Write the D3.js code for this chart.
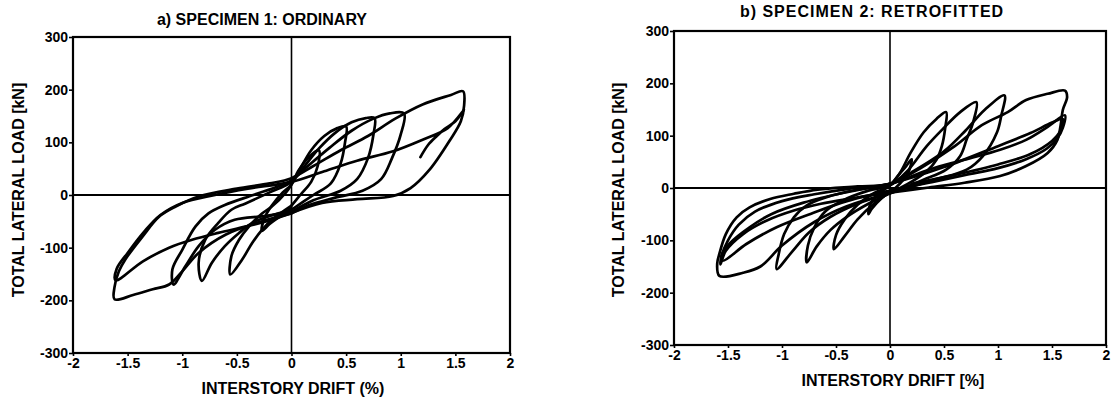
<!DOCTYPE html>
<html>
<head>
<meta charset="utf-8">
<script src="https://cdn.jsdelivr.net/npm/d3@7"></script>
<style>
  body { margin: 0; background: #fff; }
  text { font-family: "Liberation Sans", Arial, sans-serif; font-weight: bold; fill: #000; }
</style>
</head>
<body>
<svg id="chart" width="1113" height="400"></svg>
<script>
// tick values
var driftTicks = [-2, -1.5, -1, -0.5, 0, 0.5, 1, 1.5, 2];
var loadTicks = [-300, -200, -100, 0, 100, 200, 300];

// specimen 1 (ordinary): [drift %, load kN], one array per cycle
var spec1Cycle1 = [[0,-25],[-0.1,-40],[-0.2,-55],[-0.27,-68],[-0.25,-45],[-0.18,-20],[-0.08,5],[0,20],[0.06,45],[0.15,70],[0.25,85],[0.24,55],[0.18,25],[0.08,0],[0,-20]];
var spec1Cycle2 = [[0,-20],[-0.18,-47],[-0.27,-66],[-0.36,-91],[-0.45,-122],[-0.56,-151],[-0.55,-116],[-0.48,-85],[-0.39,-60],[-0.27,-35],[-0.18,-22],[-0.05,5],[0,20],[0.08,50],[0.18,85],[0.3,112],[0.42,127],[0.5,130],[0.49,100],[0.45,60],[0.36,22],[0.2,0],[0,-28]];
var spec1Cycle3 = [[0,-28],[-0.2,-40],[-0.36,-53],[-0.48,-72],[-0.61,-97],[-0.73,-129],[-0.82,-163],[-0.85,-129],[-0.79,-85],[-0.67,-53],[-0.55,-28],[-0.42,-16],[-0.2,5],[0,25],[0.12,55],[0.25,88],[0.4,118],[0.55,138],[0.68,146],[0.76,146],[0.75,115],[0.7,70],[0.6,30],[0.45,8],[0.2,-10],[0,-32]];
var spec1Cycle4 = [[0,-32],[-0.25,-40],[-0.52,-47],[-0.7,-66],[-0.85,-97],[-0.97,-135],[-1.08,-170],[-1.09,-141],[-1.0,-104],[-0.88,-60],[-0.76,-35],[-0.61,-19],[-0.35,0],[-0.1,18],[0,28],[0.15,55],[0.35,90],[0.55,122],[0.75,145],[0.9,155],[1.03,155],[1.0,115],[0.92,70],[0.82,30],[0.65,8],[0.4,-5],[0.15,-20],[0,-35]];
var spec1Cycle5 = [[0,-35],[-0.3,-52],[-0.6,-75],[-0.85,-110],[-1.0,-145],[-1.12,-170],[-1.27,-179],[-1.45,-190],[-1.62,-198],[-1.62,-175],[-1.58,-145],[-1.52,-122],[-1.36,-78],[-1.21,-41],[-1.06,-22],[-0.85,-3],[-0.5,12],[-0.2,22],[0,32],[0.2,55],[0.45,85],[0.7,112],[0.95,145],[1.2,172],[1.46,190],[1.57,197],[1.58,170],[1.55,140],[1.45,104],[1.26,47],[1.09,13],[0.93,-2],[0.6,-8],[0.28,-15],[0,-34]];
var spec1Cycle6 = [[0,-34],[-0.18,-47],[-0.42,-60],[-0.67,-72],[-0.91,-85],[-1.12,-100],[-1.36,-126],[-1.61,-162],[-1.6,-140],[-1.5,-110],[-1.35,-70],[-1.2,-38],[-1.0,-15],[-0.7,0],[-0.4,12],[0,25],[0.3,45],[0.6,65],[0.93,83],[1.2,105],[1.43,127],[1.58,162],[1.5,140],[1.4,125],[1.33,112],[1.25,95],[1.18,72]];

// specimen 2 (retrofitted)
var spec2Cycle1 = [[0,-8],[-0.08,-20],[-0.17,-40],[-0.2,-50],[-0.18,-30],[-0.1,-10],[0,5],[0.08,25],[0.15,42],[0.2,55],[0.18,35],[0.12,15],[0.05,0],[0,-8]];
var spec2Cycle2 = [[0,-8],[-0.15,-30],[-0.3,-60],[-0.42,-92],[-0.52,-117],[-0.5,-90],[-0.42,-60],[-0.3,-32],[-0.15,-10],[0,5],[0.09,28],[0.19,67],[0.31,106],[0.43,132],[0.52,145],[0.51,113],[0.48,80],[0.43,54],[0.34,32],[0.2,12],[0,-10]];
var spec2Cycle3 = [[0,-10],[-0.2,-30],[-0.4,-55],[-0.55,-80],[-0.68,-112],[-0.77,-142],[-0.76,-110],[-0.7,-75],[-0.6,-45],[-0.45,-25],[-0.2,-5],[0,5],[0.15,30],[0.34,80],[0.49,113],[0.65,145],[0.8,164],[0.77,126],[0.71,93],[0.65,61],[0.52,35],[0.3,15],[0,-10]];
var spec2Cycle4 = [[0,-10],[-0.3,-30],[-0.55,-55],[-0.75,-85],[-0.9,-120],[-1.05,-155],[-1.03,-126],[-0.98,-88],[-0.89,-56],[-0.77,-33],[-0.58,-17],[-0.3,-3],[0,8],[0.2,30],[0.5,70],[0.7,110],[0.88,150],[1.06,177],[1.03,138],[0.99,106],[0.86,61],[0.71,35],[0.4,15],[0,-10]];
var spec2Cycle5 = [[0,-10],[-0.4,-35],[-0.7,-65],[-1.0,-110],[-1.2,-150],[-1.36,-162],[-1.58,-168],[-1.6,-145],[-1.58,-126],[-1.52,-88],[-1.42,-56],[-1.3,-37],[-1.11,-21],[-0.89,-11],[-0.67,-3],[-0.3,3],[0,8],[0.3,40],[0.6,80],[0.85,120],[1.09,145],[1.26,168],[1.46,180],[1.62,186],[1.64,174],[1.6,149],[1.58,120],[1.55,92],[1.46,67],[1.26,42],[1.02,23],[0.69,10],[0.36,1],[0,-9]];
var spec2Cycle6 = [[0,-9],[-0.36,-20],[-0.64,-30],[-0.89,-43],[-1.14,-62],[-1.36,-88],[-1.52,-120],[-1.57,-146],[-1.56,-130],[-1.5,-100],[-1.4,-70],[-1.25,-45],[-1.0,-25],[-0.7,-12],[-0.4,-2],[0,8],[0.36,35],[0.69,54],[1.02,73],[1.26,92],[1.46,117],[1.62,139],[1.6,115],[1.55,95],[1.45,75],[1.26,55],[1.0,38],[0.7,25],[0.36,10],[0,-5]];
var spec2Cycle7 = [[0,-5],[-0.4,-25],[-0.73,-49],[-1.05,-75],[-1.33,-107],[-1.55,-139],[-1.56,-129],[-1.48,-105],[-1.3,-75],[-1.1,-50],[-0.8,-28],[-0.4,-8],[0,8],[0.5,40],[1.0,80],[1.3,105],[1.5,125],[1.6,132],[1.58,110],[1.5,90],[1.3,65],[1.0,45],[0.6,25],[0.2,8]];

var spec1Loops = [spec1Cycle1, spec1Cycle2, spec1Cycle3, spec1Cycle4, spec1Cycle5, spec1Cycle6];
var spec2Loops = [spec2Cycle1, spec2Cycle2, spec2Cycle3, spec2Cycle4, spec2Cycle5, spec2Cycle6, spec2Cycle7];

var svg = d3.select("#chart");

function drawPanel(opt) {
  var x = d3.scaleLinear().domain([-2, 2]).range([opt.left, opt.right]);
  var y = d3.scaleLinear().domain([-300, 300]).range([opt.bottom, opt.top]);
  var g = svg.append("g");

  // frame
  g.append("rect")
    .attr("x", opt.left).attr("y", opt.top)
    .attr("width", opt.right - opt.left).attr("height", opt.bottom - opt.top)
    .attr("fill", "none").attr("stroke", "#000").attr("stroke-width", 2.2);

  // zero lines
  g.append("line").attr("x1", opt.left).attr("x2", opt.right)
    .attr("y1", y(0)).attr("y2", y(0))
    .attr("stroke", "#000").attr("stroke-width", 2);
  g.append("line").attr("x1", x(0)).attr("x2", x(0))
    .attr("y1", opt.top).attr("y2", opt.bottom)
    .attr("stroke", "#000").attr("stroke-width", 1.6);

  var xAxis = d3.axisBottom(x).tickValues(driftTicks).tickSize(3).tickPadding(2)
    .tickFormat(function(d) { return String(d); });
  var yAxis = d3.axisLeft(y).tickValues(loadTicks).tickSize(4).tickPadding(1)
    .tickFormat(function(d) { return String(d); });

  var gx = g.append("g").attr("transform", "translate(0," + opt.bottom + ")").call(xAxis);
  var gy = g.append("g").attr("transform", "translate(" + opt.left + ",0)").call(yAxis);
  [gx, gy].forEach(function(a) {
    a.select(".domain").remove();
    a.selectAll("line").attr("stroke", "#000").attr("stroke-width", 1.6);
    a.selectAll("text").style("font-size", "14px").style("font-family", "'Liberation Sans', Arial, sans-serif").style("font-weight", "bold");
  });

  // loops
  var line = d3.line()
    .x(function(d) { return x(d[0]); })
    .y(function(d) { return y(d[1]); })
    .curve(d3.curveCatmullRom.alpha(0.5));

  g.selectAll("path.loop")
    .data(opt.loops)
    .enter().append("path")
    .attr("class", "loop")
    .attr("d", line)
    .attr("fill", "none")
    .attr("stroke", "#000")
    .attr("stroke-width", 2.7)
    .attr("stroke-linejoin", "round")
    .attr("stroke-linecap", "round");

  // titles
  g.append("text").attr("x", opt.titleX).attr("y", opt.titleY)
    .attr("text-anchor", "middle").style("font-size", "16px")
    .style("letter-spacing", opt.titleSpacing).text(opt.title);
  g.append("text").attr("x", opt.xLabelX).attr("y", opt.xLabelY)
    .attr("text-anchor", "middle").style("font-size", "16px").text(opt.xLabel);
  g.append("text")
    .attr("transform", "translate(" + opt.yLabelX + "," + opt.yLabelY + ") rotate(-90)")
    .attr("text-anchor", "middle").style("font-size", "16px").text("TOTAL LATERAL LOAD [kN]");
}

drawPanel({
  left: 73, right: 510, top: 37, bottom: 353,
  loops: spec1Loops,
  title: "a) SPECIMEN 1: ORDINARY", titleX: 262, titleY: 25, titleSpacing: "0px",
  xLabel: "INTERSTORY DRIFT  (%)", xLabelX: 293, xLabelY: 394,
  yLabelX: 24, yLabelY: 190
});

drawPanel({
  left: 674, right: 1106, top: 31, bottom: 345,
  loops: spec2Loops,
  title: "b) SPECIMEN 2: RETROFITTED", titleX: 872, titleY: 17, titleSpacing: "1px",
  xLabel: "INTERSTORY DRIFT [%]", xLabelX: 893, xLabelY: 386,
  yLabelX: 624, yLabelY: 190
});
</script>
</body>
</html>
